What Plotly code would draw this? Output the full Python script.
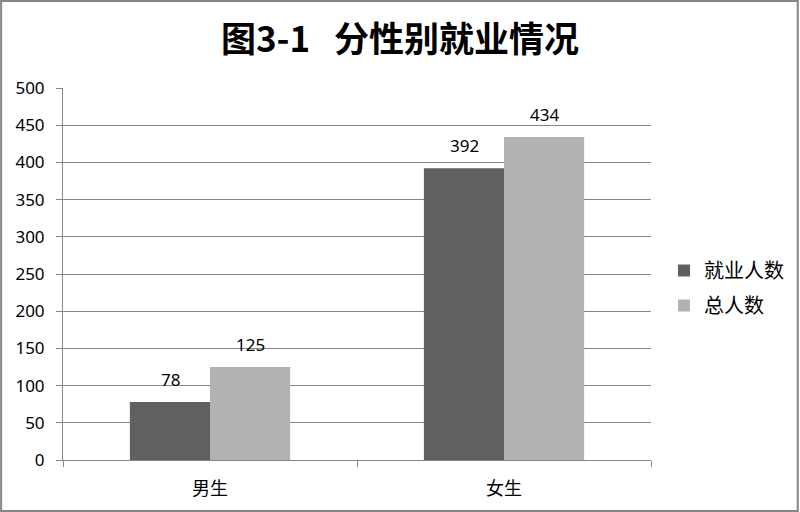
import plotly.graph_objects as go

categories = ["男生", "女生"]
employed = [78, 392]
total = [125, 434]
series_names = ["就业人数", "总人数"]
y_ticks = [0, 50, 100, 150, 200, 250, 300, 350, 400, 450, 500]

W, H = 800, 512
L, R, T, B = 63, 148, 88, 52
pw, ph = W - L - R, H - T - B

fig = go.Figure()
fig.add_trace(go.Bar(x=categories, y=employed, name=series_names[0], legendgroup="a",
                     marker=dict(color="#606060", line=dict(width=0))))
fig.add_trace(go.Bar(x=categories, y=total, name=series_names[1], legendgroup="b",
                     marker=dict(color="#b2b2b2", line=dict(width=0))))

annotations = []
for vals, shift in ((employed, -40), (total, 40)):
    for c, v in zip(categories, vals):
        annotations.append(dict(x=c, y=v, xref="x", yref="y", text=str(v), showarrow=False,
                                xshift=shift, yshift=9, yanchor="bottom",
                                font=dict(size=17, color="#000000", family="Noto Sans")))

fig.update_layout(
    width=W, height=H,
    margin=dict(l=L, r=R, t=T, b=B),
    paper_bgcolor="white", plot_bgcolor="white",
    barmode="group", bargap=0.455, bargroupgap=0,
    annotations=annotations,
    title=dict(text="<b>图3-1\u00a0\u00a0\u00a0分性别就业情况</b>", x=0.5, xref="container", xanchor="center",
               y=1 - 40 / H, yref="container", yanchor="middle",
               font=dict(family="Noto Sans CJK SC", size=35, color="#000000")),
    legend=dict(x=(664 - L) / pw, xanchor="left", y=(T + ph - 288) / ph, yanchor="middle",
                font=dict(family="Noto Sans CJK SC", size=20, color="#000000"),
                itemwidth=30, tracegroupgap=6, bgcolor="rgba(0,0,0,0)"),
    showlegend=True,
    xaxis=dict(showline=True, linecolor="#868686", linewidth=1,
               ticks="outside", ticklen=6, tickcolor="#868686", tickson="boundaries",
               ticklabelstandoff=12,
               tickfont=dict(family="Noto Sans CJK SC", size=18, color="#000000"),
               showgrid=False, fixedrange=True),
    yaxis=dict(range=[0, 500], tickvals=y_ticks, showline=True, linecolor="#868686", linewidth=1,
               ticks="outside", ticklen=6, tickcolor="#868686", ticklabelstandoff=8,
               showgrid=True, gridcolor="#868686", gridwidth=1, zeroline=False,
               tickfont=dict(family="Noto Sans", size=17, color="#000000")),
    shapes=[dict(type="rect", xref="paper", yref="paper",
                 x0=(1 - L) / pw, x1=(W - 1 - L) / pw,
                 y0=(T + ph - (H - 1)) / ph, y1=(T + ph - 1) / ph,
                 line=dict(color="#868686", width=2), fillcolor="rgba(0,0,0,0)", layer="below")],
)

fig.write_html("out.html", config={"displayModeBar": False},
               post_script="document.body.style.margin='0';")
